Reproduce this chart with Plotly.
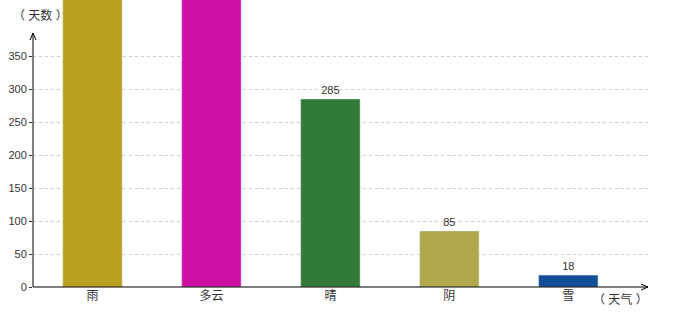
import plotly.graph_objects as go

categories = ["雨", "多云", "晴", "阴", "雪"]
days = [560, 520, 285, 85, 18]
colors = ["#B8A01E", "#CF0FA3", "#317A38", "#B0A84A", "#134F96"]
y_ticks = [0, 50, 100, 150, 200, 250, 300, 350]

Y_MAX = 435
labels = [str(v) if v < Y_MAX else "" for v in days]
font_fam = "Liberation Sans, Noto Sans CJK SC, sans-serif"

fig = go.Figure(go.Bar(
    x=categories, y=days, marker_color=colors, width=0.5,
    text=labels, textposition="outside", cliponaxis=True,
    textfont=dict(size=11, color="#333333", family=font_fam),
))

fig.update_layout(
    width=680, height=320,
    margin=dict(l=33, r=32, t=0, b=33),
    paper_bgcolor="white", plot_bgcolor="white",
    showlegend=False,
    font=dict(family=font_fam, size=11, color="#333333"),
    xaxis=dict(range=[-0.5, 4.67], showgrid=False, zeroline=False, showline=False,
               ticks="", tickfont=dict(size=12, color="#333333")),
    yaxis=dict(range=[0, Y_MAX], tickvals=y_ticks, showgrid=True, gridcolor="#cccccc",
               griddash="3px,3px", gridwidth=1, zeroline=False, showline=False,
               ticks="outside", ticklen=3, tickcolor="#333333",
               tickfont=dict(size=11, color="#333333")),
)

# axes lines
fig.add_shape(type="line", xref="paper", yref="y", x0=0, x1=0, y0=0, y1=385,
              line=dict(color="black", width=1))
fig.add_shape(type="line", xref="paper", yref="paper", x0=0, x1=1, y0=0, y1=0,
              line=dict(color="black", width=1))
# arrowheads
fig.add_shape(type="path", xref="paper", yref="y", xsizemode="pixel", ysizemode="pixel",
              xanchor=0, yanchor=385, path="M -3,-7 L 0,0 L 3,-7",
              line=dict(color="black", width=1))
fig.add_shape(type="path", xref="paper", yref="paper", xsizemode="pixel", ysizemode="pixel",
              xanchor=1, yanchor=0, path="M -7,3 L 0,0 L -7,-3",
              line=dict(color="black", width=1))

fig.add_annotation(text="（ 天数 ）", xref="paper", yref="paper", x=0, y=1,
                   xanchor="center", yanchor="top", xshift=7, yshift=-6, showarrow=False,
                   font=dict(size=12, color="#333333"))
fig.add_annotation(text="（ 天气 ）", xref="paper", yref="paper", x=1, y=0,
                   xanchor="right", yanchor="top", xshift=2, yshift=-3, showarrow=False,
                   font=dict(size=12, color="#333333"))

fig.write_html("out.html")
